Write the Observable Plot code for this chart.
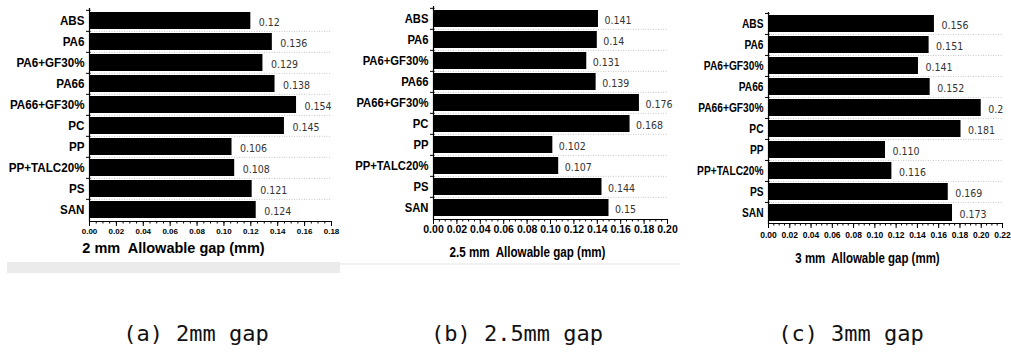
<!DOCTYPE html>
<html>
<head>
<meta charset="utf-8">
<script src="https://cdn.jsdelivr.net/npm/d3@7"></script>
<script src="https://cdn.jsdelivr.net/npm/@observablehq/plot@0.6"></script>
<style>
  html, body { margin: 0; padding: 0; background: #fff; }
  #page { position: relative; width: 1011px; height: 353px; overflow: hidden; background: #fff; }
  .panel { position: absolute; top: 0; }
  .panel svg { overflow: visible; }
  .caption {
    position: absolute; top: 323px; width: 300px; text-align: center;
    font-family: "DejaVu Sans Mono", monospace; font-size: 22px; line-height: 22px;
    color: #111; white-space: pre;
  }
  .band { position: absolute; }
</style>
</head>
<body>
<div id="page"></div>
<script>
// Materials, listed top to bottom
const materials = ["ABS", "PA6", "PA6+GF30%", "PA66", "PA66+GF30%", "PC", "PP", "PP+TALC20%", "PS", "SAN"];

// Allowable gap (mm) for each material, as printed beside the bars
const gap2mm  = ["0.12", "0.136", "0.129", "0.138", "0.154", "0.145", "0.106", "0.108", "0.121", "0.124"];
const gap25mm = ["0.141", "0.14", "0.131", "0.139", "0.176", "0.168", "0.102", "0.107", "0.144", "0.15"];
const gap3mm  = ["0.156", "0.151", "0.141", "0.152", "0.2", "0.181", "0.110", "0.116", "0.169", "0.173"];

// Axis extents and texts
const xMaxes = [0.18, 0.20, 0.22];
const axisTitles = ["2 mm  Allowable gap (mm)", "2.5 mm  Allowable gap (mm)", "3 mm  Allowable gap (mm)"];
const captions = ["(a) 2mm gap", "(b) 2.5mm gap", "(c) 3mm gap"];

const SANS = "'Liberation Sans', Arial, sans-serif";

// Layout of the three panels (page pixels); *Squeeze narrows the glyphs horizontally
const layouts = [
  {left: 0,   width: 340, axisX: 89,  xEnd: 331,  top: 8,  bottom: 221, tickFont: 8,    tickPad: 2, catFont: 12.8, catSqueeze: 0.91, titleX: 173, titleY: 248, titleFont: 14.5, titleSqueeze: 1,    labelDx: 8, captionX: 196},
  {left: 340, width: 340, axisX: 433, xEnd: 667,  top: 6,  bottom: 219, tickFont: 10.5, tickPad: 1, catFont: 12.8, catSqueeze: 0.88, titleX: 527, titleY: 252, titleFont: 14,   titleSqueeze: 0.83, labelDx: 6, captionX: 517},
  {left: 680, width: 331, axisX: 768, xEnd: 1002, top: 12, bottom: 223, tickFont: 8.5,  tickPad: 3, catFont: 12.6, catSqueeze: 0.81, titleX: 867, titleY: 258, titleFont: 14,   titleSqueeze: 0.82, labelDx: 7, captionX: 851}
];

const series = [gap2mm, gap25mm, gap3mm];
const page = document.getElementById("page");
const H = 275;
const padInner = 0.2, padOuter = 0.1;

function squeeze(texts, f) {
  if (f === 1) return;
  texts.forEach(t => {
    const len = t.getComputedTextLength();
    t.setAttribute("textLength", (len * f).toFixed(2));
    t.setAttribute("lengthAdjust", "spacingAndGlyphs");
  });
}

series.forEach((labels, k) => {
  const L = layouts[k];
  const xMax = xMaxes[k];
  const rows = materials.map((m, i) => ({material: m, label: labels[i], value: +labels[i]}));
  const step = (L.bottom - L.top) / (materials.length - padInner + 2 * padOuter);
  const major = d3.range(0, Math.round(xMax / 0.02) + 1).map(i => +(i * 0.02).toFixed(2));
  const minor = d3.range(0, Math.round(xMax / 0.005) + 1).map(i => +(i * 0.005).toFixed(3));
  const frameCenter = (L.axisX + L.xEnd) / 2;

  const chart = Plot.plot({
    width: L.width,
    height: H,
    marginLeft: L.axisX - L.left,
    marginRight: L.left + L.width - L.xEnd,
    marginTop: L.top,
    marginBottom: H - L.bottom,
    style: {fontFamily: SANS, background: "transparent", color: "#000"},
    x: {domain: [0, xMax]},
    y: {domain: materials, paddingInner: padInner, paddingOuter: padOuter},
    marks: [
      // dotted separators between rows
      Plot.ruleY(materials.slice(1), {y: d => d, x1: 0, x2: xMax, dy: -step / 2, stroke: "#b8b8b8", strokeWidth: 0.8, strokeDasharray: "1,1.5"}),
      Plot.barX(rows, {x: "value", y: "material", fill: "#000"}),
      // vertical axis line with small ticks at the row boundaries
      Plot.ruleX([0], {stroke: "#000", strokeWidth: 1.2}),
      Plot.ruleY(materials, {y: d => d, x1: 0, x2: 0, dy: -step / 2, insetLeft: -3, insetRight: -1.5, stroke: "#000", strokeWidth: 1}),
      // horizontal axis line
      Plot.frame({anchor: "bottom", stroke: "#000", strokeWidth: 1.2}),
      Plot.axisY({tickSize: 0, tickPadding: 5, fontFamily: SANS, fontWeight: "bold", fontSize: L.catFont, label: null}),
      Plot.axisX({ticks: major, tickSize: 5, tickPadding: L.tickPad, tickFormat: d3.format(".2f"), fontFamily: SANS, fontWeight: "bold", fontSize: L.tickFont, label: null}),
      Plot.axisX({ticks: minor, tickSize: 2.5, tickFormat: () => "", label: null}),
      // value labels
      Plot.text(rows, {x: "value", y: "material", text: "label", dx: L.labelDx, dy: 1.5, textAnchor: "start", fontFamily: "'DejaVu Sans Condensed', 'DejaVu Sans', sans-serif", fontSize: 10.5, fill: "#333"}),
      // axis title
      Plot.text([axisTitles[k]], {frameAnchor: "bottom", text: d => d, dx: L.titleX - frameCenter, dy: L.titleY - L.bottom, lineAnchor: "middle", fontFamily: SANS, fontWeight: "bold", fontSize: L.titleFont, fill: "#000"})
    ]
  });

  const holder = document.createElement("div");
  holder.className = "panel";
  holder.style.left = L.left + "px";
  holder.appendChild(chart);
  page.appendChild(holder);

  squeeze(chart.querySelectorAll('g[aria-label="y-axis tick label"] text'), L.catSqueeze);
  squeeze([...chart.querySelectorAll("text")].filter(t => t.textContent === axisTitles[k]), L.titleSqueeze);

  const cap = document.createElement("div");
  cap.className = "caption";
  cap.textContent = captions[k];
  cap.style.left = (L.captionX - 150) + "px";
  page.appendChild(cap);
});

// light strips under the first two panels
const strips = [
  {left: 7, top: 262, width: 333, height: 11, color: "#ebebeb"},
  {left: 340, top: 263, width: 340, height: 2, color: "#f1f1f1"}
];
strips.forEach(s => {
  const d = document.createElement("div");
  d.className = "band";
  Object.assign(d.style, {left: s.left + "px", top: s.top + "px", width: s.width + "px", height: s.height + "px", background: s.color});
  page.insertBefore(d, page.firstChild);
});
</script>
</body>
</html>
